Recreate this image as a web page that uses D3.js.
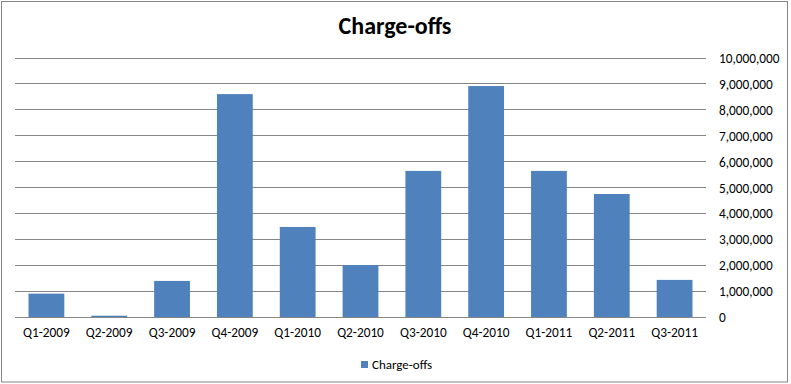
<!DOCTYPE html>
<html>
<head>
<meta charset="utf-8">
<script src="https://cdn.jsdelivr.net/npm/d3@7"></script>
<style>
  html, body { margin: 0; padding: 0; background: #fff; }
  svg { display: block; font-family: Calibri, Carlito, "Liberation Sans", Arial, sans-serif; }
</style>
</head>
<body>
<svg id="chart" width="791" height="384"></svg>
<script>
const categories = ["Q1-2009","Q2-2009","Q3-2009","Q4-2009","Q1-2010","Q2-2010","Q3-2010","Q4-2010","Q1-2011","Q2-2011","Q3-2011"];
const chargeOffs = [900000, 50000, 1390000, 8590000, 3470000, 2000000, 5630000, 8900000, 5630000, 4740000, 1430000];
const yTicks = [0,1000000,2000000,3000000,4000000,5000000,6000000,7000000,8000000,9000000,10000000];
const seriesName = "Charge-offs";
const titleText = "Charge-offs";

const FONT = 'Calibri, Carlito, "Liberation Sans", Arial, sans-serif';
const svg = d3.select("#chart");
const plot = {left: 15, right: 706, top: 57.5, bottom: 317};

// chart border
svg.append("rect")
  .attr("x", 1.5).attr("y", 1.5)
  .attr("width", 786).attr("height", 380.5)
  .attr("fill", "#fff").attr("stroke", "#868686").attr("stroke-width", 1);

const x = d3.scaleBand().domain(categories).range([plot.left, plot.right]).paddingInner(0.43).paddingOuter(0.215);
const y = d3.scaleLinear().domain([0, 10000000]).range([plot.bottom, plot.top]);

// gridlines
svg.append("g").selectAll("line").data(yTicks).join("line")
  .attr("x1", plot.left).attr("x2", plot.right)
  .attr("y1", d => Math.round(y(d)) + 0.5).attr("y2", d => Math.round(y(d)) + 0.5)
  .attr("stroke", "#868686").attr("stroke-width", 1);

// right axis labels
const yAxis = d3.axisRight(y).tickValues(yTicks).tickSize(0).tickPadding(0)
  .tickFormat(d3.format(","));
const gy = svg.append("g").attr("transform", `translate(719,0.5)`).call(yAxis);
gy.select(".domain").remove();
gy.selectAll("text").attr("font-size", "13.3px").attr("fill", "#000").style("font-family", FONT);

// bars
svg.append("g").selectAll("rect").data(chargeOffs).join("rect")
  .attr("x", (d, i) => x(categories[i]))
  .attr("width", x.bandwidth())
  .attr("y", d => y(d))
  .attr("height", d => y(0) - y(d))
  .attr("fill", "#4F81BD");

// x axis labels
const xAxis = d3.axisBottom(x).tickSize(0).tickPadding(0);
const gx = svg.append("g").attr("transform", `translate(0,${plot.bottom + 11})`).call(xAxis);
gx.select(".domain").remove();
gx.selectAll("text").attr("font-size", "13.3px").attr("fill", "#000").style("font-family", FONT);

// title
svg.append("text").attr("x", 395).attr("y", 34)
  .attr("text-anchor", "middle").attr("font-size", "24px").attr("font-weight", "bold")
  .attr("fill", "#000").style("font-family", FONT).text(titleText);

// legend
svg.append("rect").attr("x", 361).attr("y", 361).attr("width", 7).attr("height", 7).attr("fill", "#4F81BD");
svg.append("text").attr("x", 372).attr("y", 369).attr("font-size", "13px").attr("fill", "#000")
  .style("font-family", FONT).text(seriesName);
</script>
</body>
</html>
